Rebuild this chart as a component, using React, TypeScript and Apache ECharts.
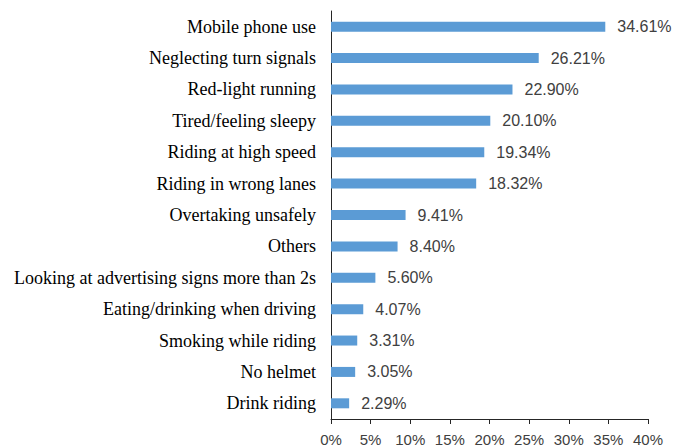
import React, { useEffect, useRef } from "react";
import * as echarts from "echarts";

const categories = [
  "Mobile phone use",
  "Neglecting turn signals",
  "Red-light running",
  "Tired/feeling sleepy",
  "Riding at high speed",
  "Riding in wrong lanes",
  "Overtaking unsafely",
  "Others",
  "Looking at advertising signs more than 2s",
  "Eating/drinking when driving",
  "Smoking while riding",
  "No helmet",
  "Drink riding",
];
const values = [34.61, 26.21, 22.9, 20.1, 19.34, 18.32, 9.41, 8.4, 5.6, 4.07, 3.31, 3.05, 2.29];
const xTicks = [0, 5, 10, 15, 20, 25, 30, 35, 40];

export default function App() {
  const ref = useRef<HTMLDivElement>(null);
  useEffect(() => {
    if (!ref.current) return;
    const chart = echarts.init(ref.current, undefined, { renderer: "svg" });
    chart.setOption({
      animation: false,
      grid: { left: 331, top: 11, width: 317, height: 408 },
      xAxis: {
        type: "value",
        min: xTicks[0],
        max: xTicks[xTicks.length - 1],
        interval: 5,
        splitLine: { show: false },
        axisLine: { show: true, lineStyle: { color: "#262626", width: 1 } },
        axisTick: { show: true, length: 5, lineStyle: { color: "#262626" } },
        axisLabel: {
          formatter: (v: number) => `${v}%`,
          color: "#404040",
          fontFamily: "Liberation Sans",
          fontSize: 15,
          margin: 13,
        },
      },
      yAxis: {
        type: "category",
        data: categories,
        inverse: true,
        axisLine: { show: true, lineStyle: { color: "#262626", width: 1 } },
        axisTick: { show: false },
        axisLabel: {
          color: "#000000",
          fontFamily: "Liberation Serif",
          fontSize: 18,
          margin: 15,
        },
      },
      series: [
        {
          type: "bar",
          data: values,
          barWidth: 10,
          itemStyle: { color: "#5B9BD5" },
          label: {
            show: true,
            position: "right",
            distance: 12,
            formatter: (p: any) => `${p.value.toFixed(2)}%`,
            color: "#404040",
            fontFamily: "Liberation Sans",
            fontSize: 16,
          },
        },
      ],
    });
    return () => chart.dispose();
  }, []);
  return (
    <div
      ref={ref}
      style={{ position: "absolute", left: 0, top: 0, width: 673, height: 447 }}
    />
  );
}
